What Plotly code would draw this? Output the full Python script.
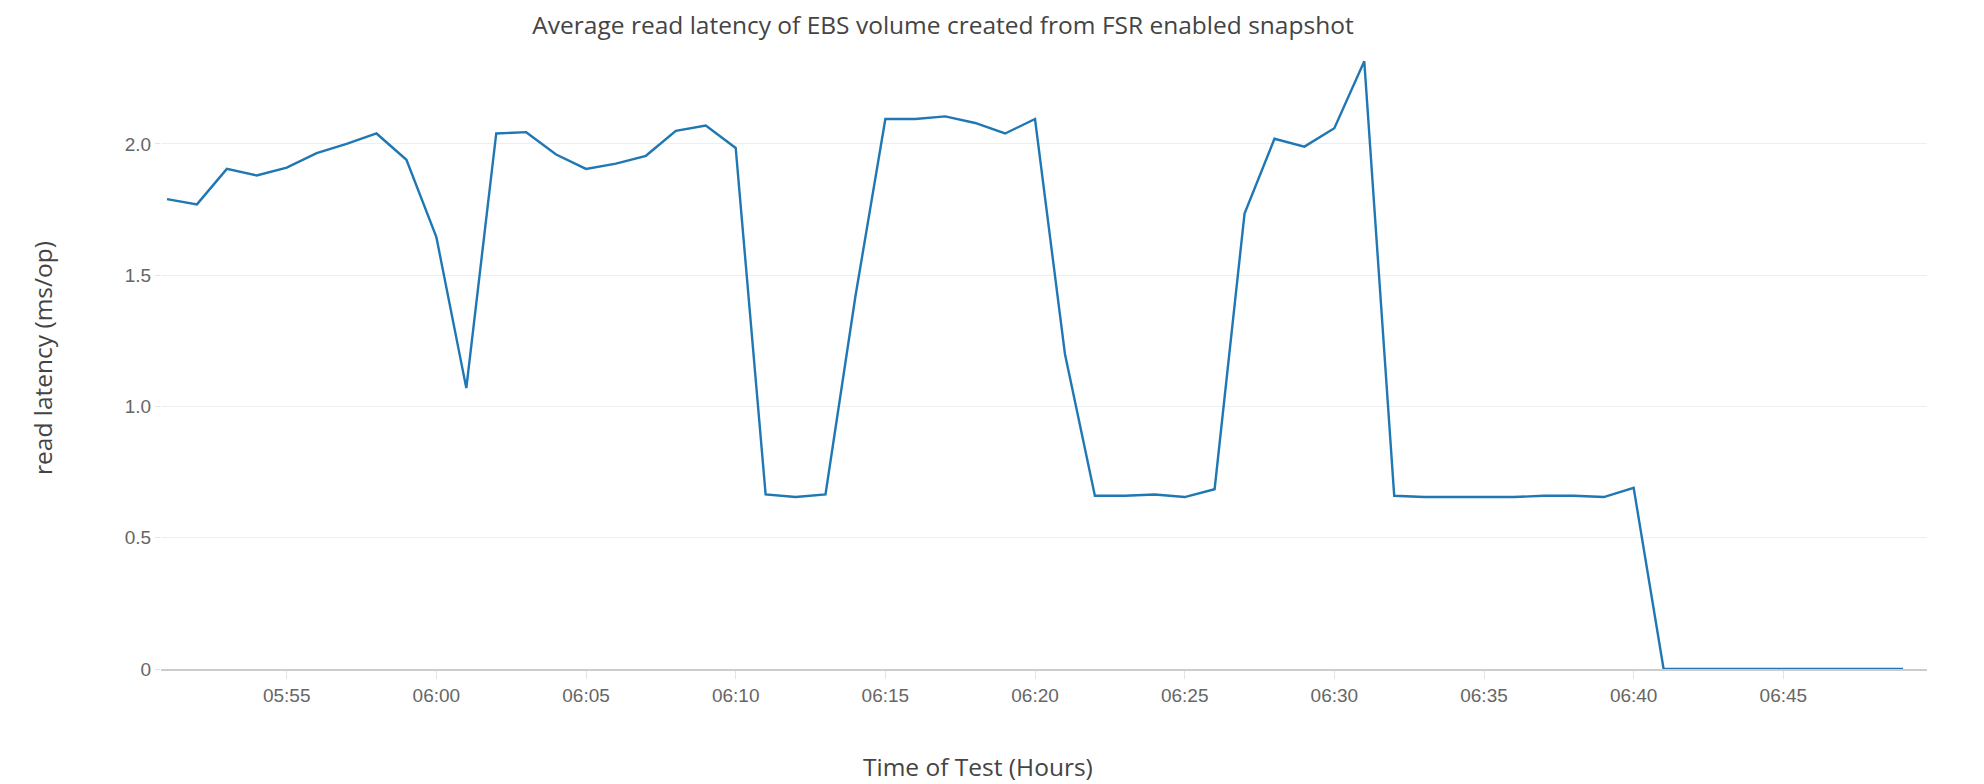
import plotly.graph_objects as go
import pandas as pd

times = pd.date_range("2021-01-01 05:51", "2021-01-01 06:49", freq="1min")
latency = [
    1.79, 1.77, 1.905, 1.88, 1.91, 1.965, 2.0, 2.04, 1.94, 1.645,   # 05:51-06:00
    1.07, 2.04, 2.045, 1.96, 1.905, 1.925, 1.955, 2.05, 2.07, 1.985,  # 06:01-06:10
    0.665, 0.655, 0.665, 1.42, 2.095, 2.095, 2.105, 2.08, 2.04, 2.095,  # 06:11-06:20
    1.2, 0.66, 0.66, 0.665, 0.655, 0.685, 1.735, 2.02, 1.99, 2.06,  # 06:21-06:30
    2.315, 0.66, 0.655, 0.655, 0.655, 0.655, 0.66, 0.66, 0.655, 0.69,  # 06:31-06:40
    0, 0, 0, 0, 0, 0, 0, 0, 0,  # 06:41-06:49
]
y_ticks = [0, 0.5, 1.0, 1.5, 2.0]
y_ticktext = ["0", "0.5", "1.0", "1.5", "2.0"]

title_text = "Average read latency of EBS volume created from FSR enabled snapshot"
x_title = "Time of Test (Hours)"
y_title = "read latency (ms/op)"

# page body has an 8px offset; figure sized so the page matches the reference
OFF = 8
W, H = 1984 - OFF, 784 - OFF
L, R, T = 161 - OFF, 57, 50 - OFF
B = H - (669 - OFF)
PW, PH = W - L - R, H - T - B

fig = go.Figure()
fig.add_trace(go.Scatter(
    x=times, y=latency, mode="lines",
    line=dict(color="#1f77b4", width=2.4),
    showlegend=False,
))

fig.update_layout(
    width=W, height=H,
    margin=dict(l=L, r=R, t=T, b=B),
    paper_bgcolor="white", plot_bgcolor="white",
    title=dict(text=title_text, x=(943 - OFF) / W, xref="container",
               xanchor="center", y=1 - (25 - OFF) / H, yanchor="middle",
               font=dict(family="Open Sans", size=24.5, color="#444")),
    xaxis=dict(
        type="date",
        range=["2021-01-01 05:50:48", "2021-01-01 06:49:48"],
        tickformat="%H:%M",
        dtick=5 * 60 * 1000,
        tick0="2021-01-01 05:55",
        showgrid=False,
        ticks="outside", ticklen=8, tickcolor="#e3e3e3", tickwidth=1,
        tickfont=dict(family="Liberation Sans", size=19, color="#666"),
        showline=True, linecolor="#cccccc", linewidth=2,
        zeroline=False,
    ),
    yaxis=dict(
        range=[0, 2.358],
        tickvals=y_ticks, ticktext=y_ticktext,
        showgrid=True, gridcolor="#eeeeee", gridwidth=1,
        ticks="outside", ticklen=5, tickcolor="#e3e3e3",
        tickfont=dict(family="Liberation Sans", size=19, color="#666"),
        zeroline=False, showline=False,
    ),
    annotations=[
        dict(text=x_title, xref="paper", yref="paper",
             x=(978 - OFF - L) / PW, y=-(766 - 669) / PH,
             xanchor="center", yanchor="middle", showarrow=False,
             font=dict(family="Open Sans", size=24.5, color="#444")),
        dict(text=y_title, xref="paper", yref="paper",
             x=(42 - OFF - L) / PW, y=1 - (358 - 50) / PH, textangle=-90,
             xanchor="center", yanchor="middle", showarrow=False,
             font=dict(family="Open Sans", size=24.5, color="#444")),
    ],
)

fig.write_html("out.html")
